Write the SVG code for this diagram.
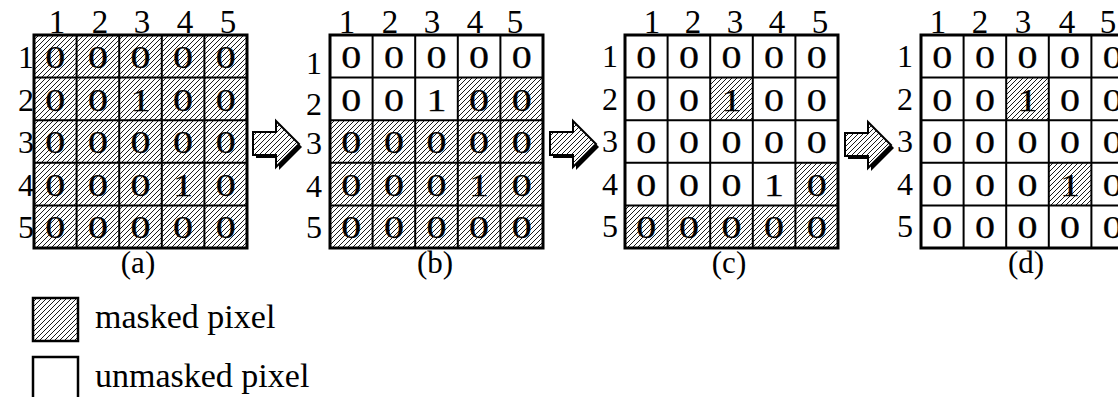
<svg xmlns="http://www.w3.org/2000/svg" xmlns:xlink="http://www.w3.org/1999/xlink" width="1118" height="397" viewBox="0 0 1118 397" font-family="'Liberation Serif', 'DejaVu Serif', serif">
<style>
text{font-family:"Liberation Serif","DejaVu Serif",serif;fill:#000}
.v{font-size:32px;text-anchor:middle;stroke:#000;stroke-width:0.25}
.h{font-size:33px;text-anchor:middle}
.r{font-size:32px;text-anchor:end}
.cap{font-size:31px;text-anchor:middle}
.leg{font-size:34px}
.inner{fill:none;stroke:#000;stroke-width:2}
.border{fill:none;stroke:#000;stroke-width:3}
.m{fill:url(#hatch)}
</style>
<defs>
<pattern id="hatch" patternUnits="userSpaceOnUse" width="5" height="5">
<rect width="5" height="5" fill="#fff"/>
<path d="M0,5L5,0M-1,1L1,-1M4,6L6,4" stroke="#000" stroke-width="0.9"/>
</pattern>
<g id="gridlines">
<path class="inner" d="M42.6,0V213M85.2,0V213M127.8,0V213M170.4,0V213M0,42.6H213M0,85.2H213M0,127.8H213M0,170.4H213"/>
<rect class="border" width="213" height="213"/>
</g>
<g id="arrow">
<polygon points="3,14 26,14 26,3 49,26 26,49 26,37 3,37" fill="#000"/>
<polygon points="0,11 23,11 23,0 46,23 23,46 23,34 0,34" fill="url(#hatch)" stroke="#000" stroke-width="2"/>
</g>
</defs>
<rect width="1118" height="397" fill="#fff"/>

<g id="grid-a" transform="translate(34,35)">
<rect class="m" width="213" height="213"/>
<use xlink:href="#gridlines" href="#gridlines"/>
<text class="h" x="23" y="-2">1</text><text class="h" x="66" y="-2">2</text><text class="h" x="108" y="-2">3</text><text class="h" x="151" y="-2">4</text><text class="h" x="194" y="-2">5</text>
<text class="r" x="0" y="33">1</text><text class="r" x="0" y="75.6">2</text><text class="r" x="0" y="118.2">3</text><text class="r" x="0" y="160.8">4</text><text class="r" x="0" y="203.4">5</text>
<text class="v" x="21.3" y="33" textLength="20" lengthAdjust="spacingAndGlyphs">0</text><text class="v" x="63.9" y="33" textLength="20" lengthAdjust="spacingAndGlyphs">0</text><text class="v" x="106.5" y="33" textLength="20" lengthAdjust="spacingAndGlyphs">0</text><text class="v" x="149.1" y="33" textLength="20" lengthAdjust="spacingAndGlyphs">0</text><text class="v" x="191.7" y="33" textLength="20" lengthAdjust="spacingAndGlyphs">0</text>
<text class="v" x="21.3" y="75.6" textLength="20" lengthAdjust="spacingAndGlyphs">0</text><text class="v" x="63.9" y="75.6" textLength="20" lengthAdjust="spacingAndGlyphs">0</text><text class="v" x="106.5" y="75.6" textLength="20" lengthAdjust="spacingAndGlyphs">1</text><text class="v" x="149.1" y="75.6" textLength="20" lengthAdjust="spacingAndGlyphs">0</text><text class="v" x="191.7" y="75.6" textLength="20" lengthAdjust="spacingAndGlyphs">0</text>
<text class="v" x="21.3" y="118.2" textLength="20" lengthAdjust="spacingAndGlyphs">0</text><text class="v" x="63.9" y="118.2" textLength="20" lengthAdjust="spacingAndGlyphs">0</text><text class="v" x="106.5" y="118.2" textLength="20" lengthAdjust="spacingAndGlyphs">0</text><text class="v" x="149.1" y="118.2" textLength="20" lengthAdjust="spacingAndGlyphs">0</text><text class="v" x="191.7" y="118.2" textLength="20" lengthAdjust="spacingAndGlyphs">0</text>
<text class="v" x="21.3" y="160.8" textLength="20" lengthAdjust="spacingAndGlyphs">0</text><text class="v" x="63.9" y="160.8" textLength="20" lengthAdjust="spacingAndGlyphs">0</text><text class="v" x="106.5" y="160.8" textLength="20" lengthAdjust="spacingAndGlyphs">0</text><text class="v" x="149.1" y="160.8" textLength="20" lengthAdjust="spacingAndGlyphs">1</text><text class="v" x="191.7" y="160.8" textLength="20" lengthAdjust="spacingAndGlyphs">0</text>
<text class="v" x="21.3" y="203.4" textLength="20" lengthAdjust="spacingAndGlyphs">0</text><text class="v" x="63.9" y="203.4" textLength="20" lengthAdjust="spacingAndGlyphs">0</text><text class="v" x="106.5" y="203.4" textLength="20" lengthAdjust="spacingAndGlyphs">0</text><text class="v" x="149.1" y="203.4" textLength="20" lengthAdjust="spacingAndGlyphs">0</text><text class="v" x="191.7" y="203.4" textLength="20" lengthAdjust="spacingAndGlyphs">0</text>
<text class="cap" x="104" y="238">(a)</text>
</g>

<g id="grid-b" transform="translate(330,35)">
<rect class="m" x="127.8" y="42.6" width="85.2" height="42.6"/>
<rect class="m" x="0" y="85.2" width="213" height="127.8"/>
<use xlink:href="#gridlines" href="#gridlines"/>
<text class="h" x="17" y="-2">1</text><text class="h" x="60" y="-2">2</text><text class="h" x="102" y="-2">3</text><text class="h" x="145" y="-2">4</text><text class="h" x="185" y="-2">5</text>
<text class="r" x="-8" y="39">1</text><text class="r" x="-8" y="79.6">2</text><text class="r" x="-8" y="119.2">3</text><text class="r" x="-8" y="161.8">4</text><text class="r" x="-8" y="203.4">5</text>
<text class="v" x="21.3" y="33" textLength="20" lengthAdjust="spacingAndGlyphs">0</text><text class="v" x="63.9" y="33" textLength="20" lengthAdjust="spacingAndGlyphs">0</text><text class="v" x="106.5" y="33" textLength="20" lengthAdjust="spacingAndGlyphs">0</text><text class="v" x="149.1" y="33" textLength="20" lengthAdjust="spacingAndGlyphs">0</text><text class="v" x="191.7" y="33" textLength="20" lengthAdjust="spacingAndGlyphs">0</text>
<text class="v" x="21.3" y="75.6" textLength="20" lengthAdjust="spacingAndGlyphs">0</text><text class="v" x="63.9" y="75.6" textLength="20" lengthAdjust="spacingAndGlyphs">0</text><text class="v" x="106.5" y="75.6" textLength="20" lengthAdjust="spacingAndGlyphs">1</text><text class="v" x="149.1" y="75.6" textLength="20" lengthAdjust="spacingAndGlyphs">0</text><text class="v" x="191.7" y="75.6" textLength="20" lengthAdjust="spacingAndGlyphs">0</text>
<text class="v" x="21.3" y="118.2" textLength="20" lengthAdjust="spacingAndGlyphs">0</text><text class="v" x="63.9" y="118.2" textLength="20" lengthAdjust="spacingAndGlyphs">0</text><text class="v" x="106.5" y="118.2" textLength="20" lengthAdjust="spacingAndGlyphs">0</text><text class="v" x="149.1" y="118.2" textLength="20" lengthAdjust="spacingAndGlyphs">0</text><text class="v" x="191.7" y="118.2" textLength="20" lengthAdjust="spacingAndGlyphs">0</text>
<text class="v" x="21.3" y="160.8" textLength="20" lengthAdjust="spacingAndGlyphs">0</text><text class="v" x="63.9" y="160.8" textLength="20" lengthAdjust="spacingAndGlyphs">0</text><text class="v" x="106.5" y="160.8" textLength="20" lengthAdjust="spacingAndGlyphs">0</text><text class="v" x="149.1" y="160.8" textLength="20" lengthAdjust="spacingAndGlyphs">1</text><text class="v" x="191.7" y="160.8" textLength="20" lengthAdjust="spacingAndGlyphs">0</text>
<text class="v" x="21.3" y="203.4" textLength="20" lengthAdjust="spacingAndGlyphs">0</text><text class="v" x="63.9" y="203.4" textLength="20" lengthAdjust="spacingAndGlyphs">0</text><text class="v" x="106.5" y="203.4" textLength="20" lengthAdjust="spacingAndGlyphs">0</text><text class="v" x="149.1" y="203.4" textLength="20" lengthAdjust="spacingAndGlyphs">0</text><text class="v" x="191.7" y="203.4" textLength="20" lengthAdjust="spacingAndGlyphs">0</text>
<text class="cap" x="105" y="238">(b)</text>
</g>

<g id="grid-c" transform="translate(625,35)">
<rect class="m" x="85.2" y="42.6" width="42.6" height="42.6"/>
<rect class="m" x="170.4" y="127.8" width="42.6" height="42.6"/>
<rect class="m" x="0" y="170.4" width="213" height="42.6"/>
<use xlink:href="#gridlines" href="#gridlines"/>
<text class="h" x="27" y="-2">1</text><text class="h" x="68" y="-2">2</text><text class="h" x="110" y="-2">3</text><text class="h" x="152" y="-2">4</text><text class="h" x="195" y="-2">5</text>
<text class="r" x="-7" y="32">1</text><text class="r" x="-7" y="74.6">2</text><text class="r" x="-7" y="117.2">3</text><text class="r" x="-7" y="159.8">4</text><text class="r" x="-7" y="202.4">5</text>
<text class="v" x="21.3" y="33" textLength="20" lengthAdjust="spacingAndGlyphs">0</text><text class="v" x="63.9" y="33" textLength="20" lengthAdjust="spacingAndGlyphs">0</text><text class="v" x="106.5" y="33" textLength="20" lengthAdjust="spacingAndGlyphs">0</text><text class="v" x="149.1" y="33" textLength="20" lengthAdjust="spacingAndGlyphs">0</text><text class="v" x="191.7" y="33" textLength="20" lengthAdjust="spacingAndGlyphs">0</text>
<text class="v" x="21.3" y="75.6" textLength="20" lengthAdjust="spacingAndGlyphs">0</text><text class="v" x="63.9" y="75.6" textLength="20" lengthAdjust="spacingAndGlyphs">0</text><text class="v" x="106.5" y="75.6" textLength="20" lengthAdjust="spacingAndGlyphs">1</text><text class="v" x="149.1" y="75.6" textLength="20" lengthAdjust="spacingAndGlyphs">0</text><text class="v" x="191.7" y="75.6" textLength="20" lengthAdjust="spacingAndGlyphs">0</text>
<text class="v" x="21.3" y="118.2" textLength="20" lengthAdjust="spacingAndGlyphs">0</text><text class="v" x="63.9" y="118.2" textLength="20" lengthAdjust="spacingAndGlyphs">0</text><text class="v" x="106.5" y="118.2" textLength="20" lengthAdjust="spacingAndGlyphs">0</text><text class="v" x="149.1" y="118.2" textLength="20" lengthAdjust="spacingAndGlyphs">0</text><text class="v" x="191.7" y="118.2" textLength="20" lengthAdjust="spacingAndGlyphs">0</text>
<text class="v" x="21.3" y="160.8" textLength="20" lengthAdjust="spacingAndGlyphs">0</text><text class="v" x="63.9" y="160.8" textLength="20" lengthAdjust="spacingAndGlyphs">0</text><text class="v" x="106.5" y="160.8" textLength="20" lengthAdjust="spacingAndGlyphs">0</text><text class="v" x="149.1" y="160.8" textLength="20" lengthAdjust="spacingAndGlyphs">1</text><text class="v" x="191.7" y="160.8" textLength="20" lengthAdjust="spacingAndGlyphs">0</text>
<text class="v" x="21.3" y="203.4" textLength="20" lengthAdjust="spacingAndGlyphs">0</text><text class="v" x="63.9" y="203.4" textLength="20" lengthAdjust="spacingAndGlyphs">0</text><text class="v" x="106.5" y="203.4" textLength="20" lengthAdjust="spacingAndGlyphs">0</text><text class="v" x="149.1" y="203.4" textLength="20" lengthAdjust="spacingAndGlyphs">0</text><text class="v" x="191.7" y="203.4" textLength="20" lengthAdjust="spacingAndGlyphs">0</text>
<text class="cap" x="104" y="238">(c)</text>
</g>

<g id="grid-d" transform="translate(921,35)">
<rect class="m" x="85.2" y="42.6" width="42.6" height="42.6"/>
<rect class="m" x="127.8" y="127.8" width="42.6" height="42.6"/>
<use xlink:href="#gridlines" href="#gridlines"/>
<text class="h" x="17" y="-2">1</text><text class="h" x="59" y="-2">2</text><text class="h" x="102" y="-2">3</text><text class="h" x="146" y="-2">4</text><text class="h" x="187" y="-2">5</text>
<text class="r" x="-8" y="32">1</text><text class="r" x="-8" y="74.6">2</text><text class="r" x="-8" y="117.2">3</text><text class="r" x="-8" y="159.8">4</text><text class="r" x="-8" y="202.4">5</text>
<text class="v" x="21.3" y="33" textLength="20" lengthAdjust="spacingAndGlyphs">0</text><text class="v" x="63.9" y="33" textLength="20" lengthAdjust="spacingAndGlyphs">0</text><text class="v" x="106.5" y="33" textLength="20" lengthAdjust="spacingAndGlyphs">0</text><text class="v" x="149.1" y="33" textLength="20" lengthAdjust="spacingAndGlyphs">0</text><text class="v" x="191.7" y="33" textLength="20" lengthAdjust="spacingAndGlyphs">0</text>
<text class="v" x="21.3" y="75.6" textLength="20" lengthAdjust="spacingAndGlyphs">0</text><text class="v" x="63.9" y="75.6" textLength="20" lengthAdjust="spacingAndGlyphs">0</text><text class="v" x="106.5" y="75.6" textLength="20" lengthAdjust="spacingAndGlyphs">1</text><text class="v" x="149.1" y="75.6" textLength="20" lengthAdjust="spacingAndGlyphs">0</text><text class="v" x="191.7" y="75.6" textLength="20" lengthAdjust="spacingAndGlyphs">0</text>
<text class="v" x="21.3" y="118.2" textLength="20" lengthAdjust="spacingAndGlyphs">0</text><text class="v" x="63.9" y="118.2" textLength="20" lengthAdjust="spacingAndGlyphs">0</text><text class="v" x="106.5" y="118.2" textLength="20" lengthAdjust="spacingAndGlyphs">0</text><text class="v" x="149.1" y="118.2" textLength="20" lengthAdjust="spacingAndGlyphs">0</text><text class="v" x="191.7" y="118.2" textLength="20" lengthAdjust="spacingAndGlyphs">0</text>
<text class="v" x="21.3" y="160.8" textLength="20" lengthAdjust="spacingAndGlyphs">0</text><text class="v" x="63.9" y="160.8" textLength="20" lengthAdjust="spacingAndGlyphs">0</text><text class="v" x="106.5" y="160.8" textLength="20" lengthAdjust="spacingAndGlyphs">0</text><text class="v" x="149.1" y="160.8" textLength="20" lengthAdjust="spacingAndGlyphs">1</text><text class="v" x="191.7" y="160.8" textLength="20" lengthAdjust="spacingAndGlyphs">0</text>
<text class="v" x="21.3" y="203.4" textLength="20" lengthAdjust="spacingAndGlyphs">0</text><text class="v" x="63.9" y="203.4" textLength="20" lengthAdjust="spacingAndGlyphs">0</text><text class="v" x="106.5" y="203.4" textLength="20" lengthAdjust="spacingAndGlyphs">0</text><text class="v" x="149.1" y="203.4" textLength="20" lengthAdjust="spacingAndGlyphs">0</text><text class="v" x="191.7" y="203.4" textLength="20" lengthAdjust="spacingAndGlyphs">0</text>
<text class="cap" x="105" y="238">(d)</text>
</g>

<g id="connectors">
<use xlink:href="#arrow" href="#arrow" transform="translate(253,121)"/>
<use xlink:href="#arrow" href="#arrow" transform="translate(550,121)"/>
<use xlink:href="#arrow" href="#arrow" transform="translate(845,122)"/>
</g>

<g id="legend-masked">
<rect x="33" y="298" width="45" height="43" fill="url(#hatch)" stroke="#000" stroke-width="2.5"/>
<text class="leg" x="95" y="328">masked pixel</text>
</g>
<g id="legend-unmasked">
<rect x="33" y="357" width="45" height="43" fill="#fff" stroke="#000" stroke-width="2.5"/>
<text class="leg" x="95" y="387">unmasked pixel</text>
</g>
</svg>
